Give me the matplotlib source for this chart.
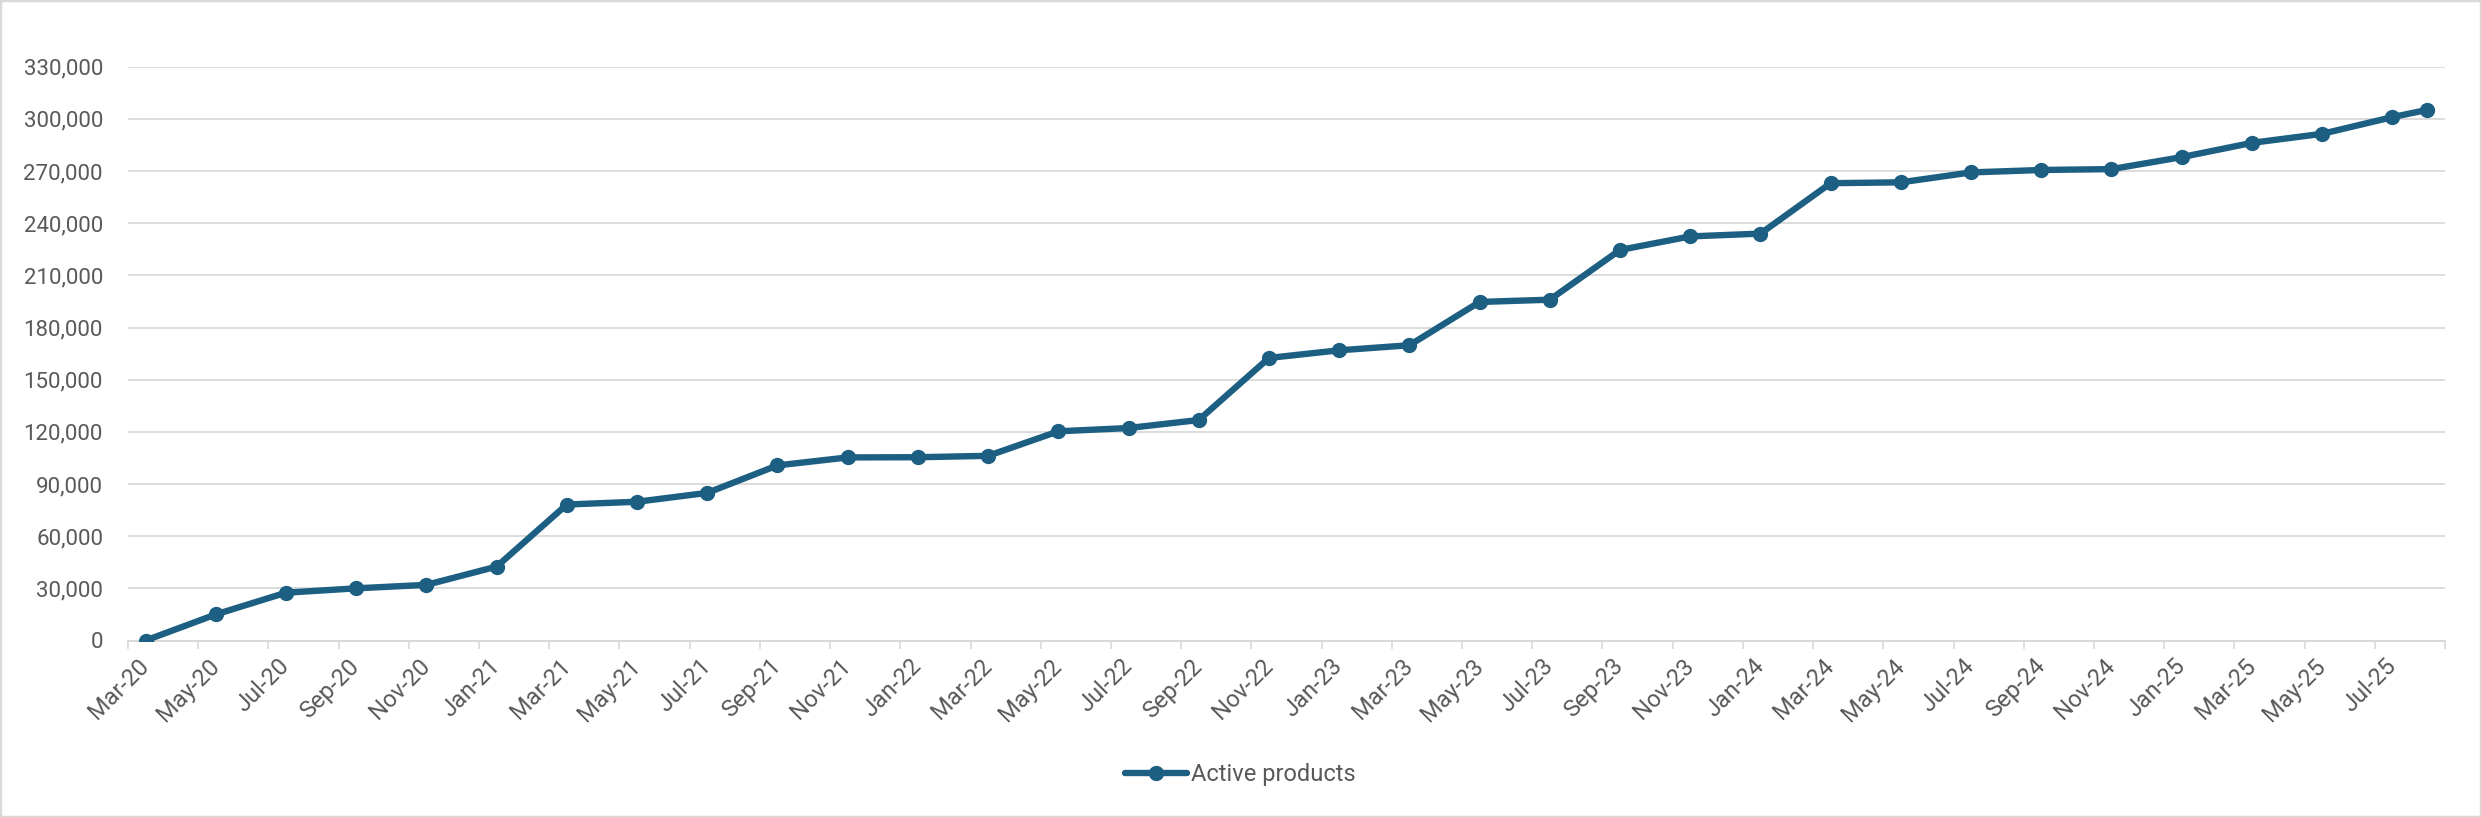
import numpy as np
import pandas as pd
import matplotlib
matplotlib.use("Agg")
import matplotlib.pyplot as plt
from matplotlib.ticker import FuncFormatter, FixedLocator
from matplotlib.patches import Rectangle

# months of each data point and the active product count
months = ["Mar-20", "May-20", "Jul-20", "Sep-20", "Nov-20", "Jan-21", "Mar-21", "May-21",
          "Jul-21", "Sep-21", "Nov-21", "Jan-22", "Mar-22", "May-22", "Jul-22", "Sep-22",
          "Nov-22", "Jan-23", "Mar-23", "May-23", "Jul-23", "Sep-23", "Nov-23", "Jan-24",
          "Mar-24", "May-24", "Jul-24", "Sep-24", "Nov-24", "Jan-25", "Mar-25", "May-25",
          "Jul-25", "Aug-25"]
active_products = [0, 15000, 27500, 30000, 32000, 42500, 78200, 79800,
                   84900, 100700, 105300, 105400, 106200, 120300, 122200, 126800,
                   162500, 166900, 169800, 194700, 196000, 224600, 232400, 234000,
                   263000, 263500, 269200, 270600, 271100, 278000, 286200, 291400,
                   301000, 305200]
series_name = "Active products"
y_ticks = list(range(0, 330001, 30000))

line_col = "#1c5f82"
grid_col = "#d9d9d9"
text_col = "#595959"

plt.rcParams['font.family'] = ['Roboto', 'DejaVu Sans']

dates = pd.to_datetime(months, format="%b-%y")
start = dates[0]
x = np.array([(d.year - start.year) * 12 + d.month - start.month for d in dates])

# labels every two months, last month not labelled
tick_dates = pd.date_range(start, dates[-2], freq="2MS")
tick_x = [(d.year - start.year) * 12 + d.month - start.month for d in tick_dates]
tick_labels = [d.strftime("%b-%y") for d in tick_dates]

fig = plt.figure(figsize=(24.81, 8.17), dpi=100)
ax = fig.add_axes([128 / 2481, 1 - 640.5 / 817, (2445 - 128) / 2481, (640.5 - 66.7) / 817])

ax.plot(x, active_products, color=line_col, linewidth=4.6, marker="o", markersize=10,
        label=series_name, solid_capstyle="round", zorder=3)

ax.set_xlim(x[0] - 0.5, x[-1] + 0.5)
ax.set_ylim(0, 330000)

ax.set_yticks(y_ticks)
ax.yaxis.set_major_formatter(FuncFormatter(lambda v, p: f"{v:,.0f}"))
ax.tick_params(axis="y", length=0, pad=18, labelsize=16, labelcolor=text_col)

ax.xaxis.set_major_locator(FixedLocator(tick_x))
ax.set_xticklabels(tick_labels)
ax.xaxis.set_minor_locator(FixedLocator(np.arange(x[0] - 0.5, x[-1] + 1, 2)))
ax.tick_params(axis="x", which="major", length=0, pad=16, labelsize=17, labelcolor=text_col)
ax.tick_params(axis="x", which="minor", length=6, width=1.2, color=grid_col, direction="out")
for lab in ax.get_xticklabels():
    lab.set_rotation(45)
    lab.set_ha("right")
    lab.set_va("center")
    lab.set_rotation_mode("anchor")

ax.grid(axis="y", color=grid_col, linewidth=1.3)
ax.set_axisbelow(True)
for s in ["top", "right", "left"]:
    ax.spines[s].set_visible(False)
ax.spines["bottom"].set_color(grid_col)
ax.spines["bottom"].set_linewidth(1.3)

leg = fig.legend(loc="center", bbox_to_anchor=(0.5, 1 - 775 / 817), frameon=False,
                 fontsize=17, handlelength=2.6, handletextpad=0.2)
for t in leg.get_texts():
    t.set_color(text_col)

fig.patches.append(Rectangle((0, 0), 1, 1, transform=fig.transFigure, fill=False,
                             edgecolor=grid_col, linewidth=2.5))

fig.savefig("out.png", dpi=100)
